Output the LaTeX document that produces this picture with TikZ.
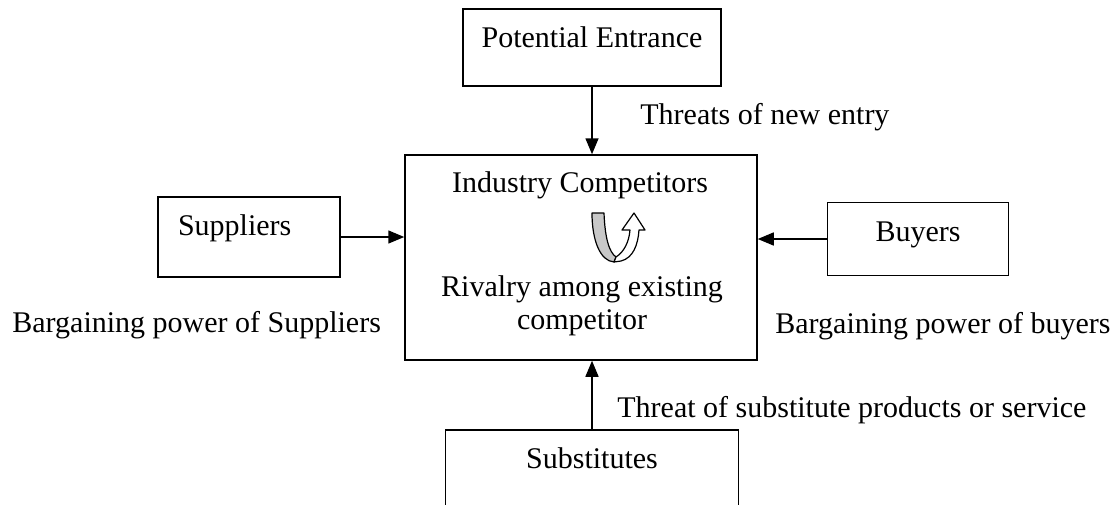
\documentclass[tikz,border=0pt]{standalone}
\usepackage{fontspec}
\setmainfont{Liberation Serif}
\usetikzlibrary{arrows.meta,calc}
\definecolor{ink}{HTML}{000000}
\definecolor{bandgray}{HTML}{C8C8C8}
\tikzset{
  font=\fontsize{15}{16.5}\selectfont,
  >={Triangle[length=8pt,width=6.5pt]},
  force/.style={draw=ink, line width=.75pt, ->},
  box/.style={draw=ink, fill=white, line width=.75pt, inner sep=0pt,
    text height=10pt, align=center},
  note/.style={inner sep=0pt, text=ink, align=center},
  uturn/.style={draw=ink, line width=.6pt, line join=round}
}
\begin{document}
\begin{tikzpicture}[x=.5pt,y=-.5pt]
  \clip (0,0) rectangle (1115,504);

  % -------------------------------------------------------------------
  % The five forces.
  \node[box, minimum width=129pt, minimum height=38.5pt, text depth=10.5pt]
    (entrant) at (592,47.5) {Potential Entrance};
  \node[box, minimum width=176pt, minimum height=102.5pt]
    (rivalry) at (581,257.5) {};
  \node[box, minimum height=40pt, text width=71pt, inner xsep=10pt,
    align=left, text depth=12pt] (suppliers) at (249,237) {Suppliers};
  \node[box, minimum width=90.5pt, minimum height=36.5pt, text depth=7.5pt]
    (buyers) at (918,239) {Buyers};
  \node[box, minimum width=146.5pt, minimum height=50pt, text depth=22pt]
    (subst) at (592,480) {Substitutes};

  \node[note] (industry) at (580,185) {Industry Competitors};
  \node[note] (existing) at (582,306) {Rivalry among existing\\competitor};

  % -------------------------------------------------------------------
  % Arrows into the industry.
  \draw[force] (entrant.south) -- (entrant.south |- rivalry.north);
  \draw[force] (suppliers.east) -- (suppliers.east -| rivalry.west);
  \draw[force] (buyers.west) -- (buyers.west -| rivalry.east);
  \draw[force] (subst.north) -- (subst.north |- rivalry.south);

  \node[note, anchor=west] (newentry) at (640,117) {Threats of new entry};
  \node[note, anchor=west] (supplierpower) at (12,325)
    {Bargaining power of Suppliers};
  \node[note, anchor=west] (buyerpower) at (775,326)
    {Bargaining power of buyers};
  \node[note, anchor=west] (substthreat) at (617,410)
    {Threat of substitute products or service};

  % -------------------------------------------------------------------
  % Rivalry loop.
  \path[uturn, fill=bandgray] (592,213) -- (604,213)
    .. controls (605,238) and (609,252) .. (616,257)
    -- (614,262) .. controls (600,261) and (592,240) .. (592,213) -- cycle;
  \path[uturn, fill=white] (614,262) -- (621,261)
    .. controls (633,258) and (638,245) .. (639,230)
    -- (645,230) -- (634,213) -- (622,230) -- (630,230)
    .. controls (629,242) and (624,252) .. (616,257) -- cycle;
\end{tikzpicture}
\end{document}
